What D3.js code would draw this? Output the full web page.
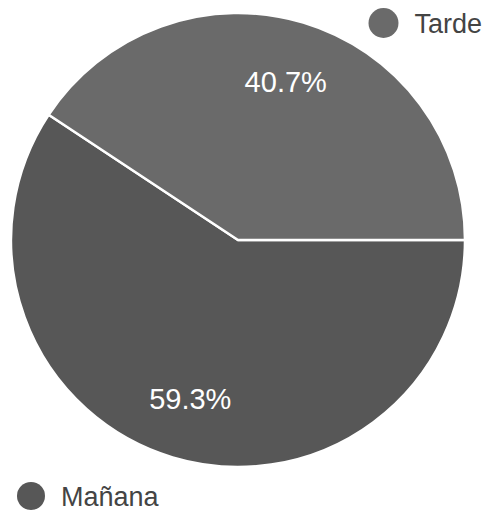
<!DOCTYPE html>
<html>
<head>
<meta charset="utf-8">
<script src="https://cdn.jsdelivr.net/npm/d3@7/dist/d3.min.js"></script>
<style>
  html, body { margin: 0; padding: 0; background: #fff; }
  svg { display: block; }
</style>
</head>
<body>
<svg id="chart" width="489" height="512"></svg>
<script>
// Shift of the day and share of responses (%)
const categories = ["Mañana", "Tarde"];
const values = [59.3, 40.7];
const colors = ["#575757", "#6a6a6a"];

const svg = d3.select("#chart");
const cx = 238, cy = 240, r = 227;
const font = "Arial, 'Liberation Sans', sans-serif";

const pie = d3.pie()
  .sort(null)
  .value(d => d.value)
  .startAngle(Math.PI / 2)
  .endAngle(Math.PI / 2 + 2 * Math.PI);

const data = categories.map((c, i) => ({ name: c, value: values[i], color: colors[i] }));
const arcs = pie(data);
const arc = d3.arc().innerRadius(0).outerRadius(r);

const g = svg.append("g").attr("transform", `translate(${cx},${cy})`);

g.selectAll("path.slice")
  .data(arcs)
  .join("path")
  .attr("class", "slice")
  .attr("d", arc)
  .attr("fill", d => d.data.color)
  .attr("stroke", "#ffffff")
  .attr("stroke-width", 2.5)
  .attr("stroke-linejoin", "round");

// Percentage labels inside the slices
const labelArc = d3.arc().innerRadius(r * 0.73).outerRadius(r * 0.73);
g.selectAll("text.pct")
  .data(arcs)
  .join("text")
  .attr("class", "pct")
  .attr("transform", d => {
    const [x, y] = labelArc.centroid(d);
    return `translate(${x},${y})`;
  })
  .attr("text-anchor", "middle")
  .attr("dy", "0.36em")
  .attr("fill", "#ffffff")
  .attr("font-family", font)
  .attr("font-size", 29)
  .text(d => d.data.value.toFixed(1) + "%");

// Legend entries
const legend = [
  { name: "Tarde", color: colors[1], x: 383.5, y: 23, r: 15 },
  { name: "Mañana", color: colors[0], x: 31, y: 496, r: 14 }
];
const lg = svg.selectAll("g.legend")
  .data(legend)
  .join("g")
  .attr("class", "legend")
  .attr("transform", d => `translate(${d.x},${d.y})`);
lg.append("circle")
  .attr("r", d => d.r)
  .attr("fill", d => d.color);
lg.append("text")
  .attr("x", d => d.r + 16)
  .attr("dy", "0.36em")
  .attr("fill", "#444444")
  .attr("font-family", font)
  .attr("font-size", 27)
  .text(d => d.name);
</script>
</body>
</html>
